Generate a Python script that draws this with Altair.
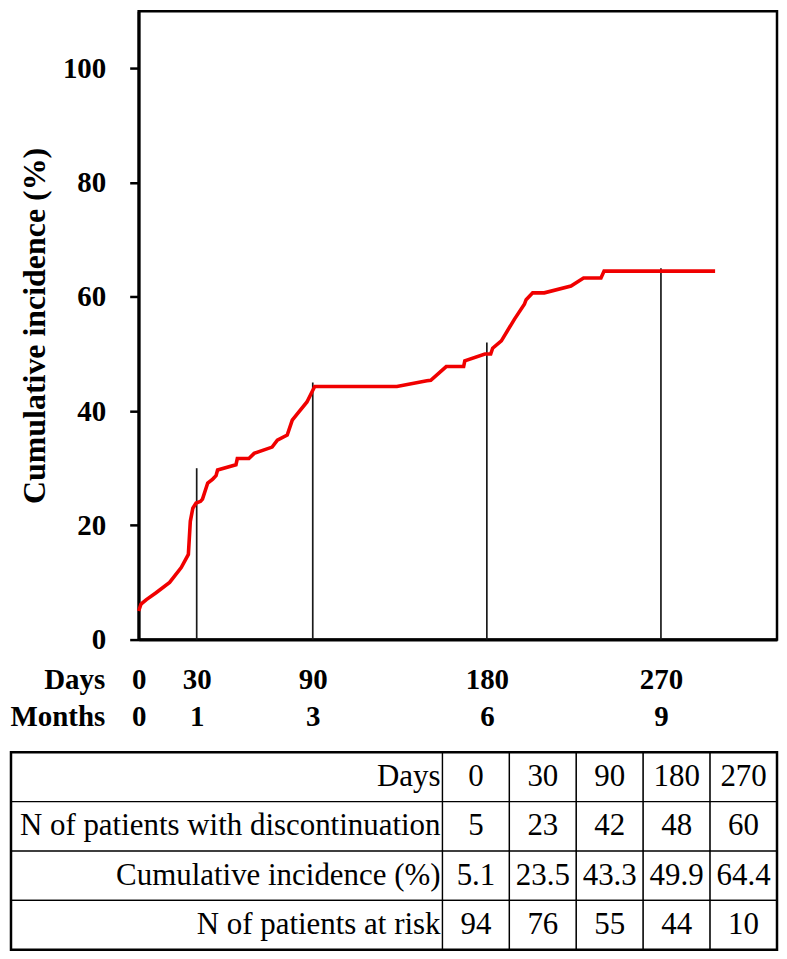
import altair as alt
import pandas as pd

# ---------------- data ----------------
curve_days = [0, 1.2, 4, 9, 16, 22, 25.7, 26.7, 28, 29.7, 32, 33, 35.7, 38.3, 40, 40.8,
              50.3, 51, 57, 59.7, 69, 71.7, 76.8, 79.4, 82, 87, 91, 133.5, 149, 151,
              159, 168, 168.6, 179, 182, 183, 187.5, 194.3, 199.4, 200.3, 203.7, 209.7,
              223.5, 230, 239, 240.6, 298]
curve_inc = [5.0, 6.2, 7.0, 8.2, 10.0, 12.6, 14.9, 20.7, 23.0, 23.9, 24.2, 24.6, 27.4, 28.1, 28.7, 29.7,
             30.6, 31.7, 31.7, 32.6, 33.7, 34.9, 35.8, 38.4, 39.5, 41.6, 44.3, 44.3, 45.3, 45.4,
             47.8, 47.8, 48.8, 50.0, 50.0, 51.0, 52.3, 56.1, 58.7, 59.5, 60.7, 60.7,
             61.9, 63.3, 63.3, 64.5, 64.5]

rule_days = [30, 90, 180, 270]
rule_tops = [30, 45, 52, 65]

tick_days = [0, 30, 90, 180, 270]
tick_months = [0, 1, 3, 6, 9]
y_ticks = [0, 20, 40, 60, 80, 100]

row_labels = ["Days", "N of patients with discontinuation",
              "Cumulative incidence (%)", "N of patients at risk"]
tbl_days = ["0", "30", "90", "180", "270"]
tbl_n_disc = ["5", "23", "42", "48", "60"]
tbl_cum_inc = ["5.1", "23.5", "43.3", "49.9", "64.4"]
tbl_at_risk = ["94", "76", "55", "44", "10"]

# ---------------- layout / style ----------------
FONT = "'Liberation Serif', 'Times New Roman', Tinos, 'Nimbus Roman', serif"
PLOT_W = 640
PLOT_H = 630
TABLE_LEFT_PX = 128      # how far the table reaches left of the plot's left edge
TABLE_H = 198
LABEL_UNITS = 6.45
VALUE_UNITS = 1.0

curve_df = pd.DataFrame({"day": curve_days, "value": curve_inc})
rule_df = pd.DataFrame({"day": rule_days, "value": rule_tops, "base": [0] * len(rule_days)})

label_expr = " : ".join(
    f"datum.value == {d} ? ['{d}', '{m}']" for d, m in zip(tick_days, tick_months)
) + " : datum.label"

x_enc = alt.X(
    "day:Q",
    scale=alt.Scale(domain=[0, 330], nice=False, zero=False),
    axis=alt.Axis(
        values=tick_days, ticks=False, tickSize=0, grid=False,
        domainColor="black", domainWidth=3,
        labelExpr=label_expr, labelFont=FONT, labelFontSize=29, labelFontWeight="bold",
        labelColor="black", labelPadding=49, labelBaseline="alphabetic",
        labelLineHeight=37, labelFlush=False, labelOverlap=False,
        title=["Days", "Months"], titleFont=FONT, titleFontSize=29, titleFontWeight="bold",
        titleColor="black", titleAlign="right", titleAngle=0, titleBaseline="alphabetic",
        titleLineHeight=37, titleX=-34, titleY=49,
    ),
)
y_axis = alt.Axis(
    values=y_ticks, grid=False, tickSize=9, tickWidth=2.5, tickColor="black",
    domainColor="black", domainWidth=3,
    labelFont=FONT, labelFontSize=29, labelFontWeight="bold", labelColor="black",
    labelPadding=24,
    title="Cumulative incidence (%)", titleFont=FONT, titleFontSize=32,
    titleFontWeight="bold", titleColor="black", titlePadding=11,
)
y_scale = alt.Scale(domain=[0, 110], nice=False)

line = alt.Chart(curve_df).mark_line(color="#f00000", strokeWidth=3.6).encode(
    x=x_enc,
    y=alt.Y("value:Q", scale=y_scale, axis=y_axis),
)
rules = alt.Chart(rule_df).mark_rule(color="#1a1a1a", strokeWidth=1.7).encode(
    x=x_enc,
    y=alt.Y("value:Q", scale=y_scale, axis=y_axis),
    y2="base:Q",
)
top = alt.layer(rules, line).properties(
    width=PLOT_W, height=PLOT_H,
    view=alt.ViewBackground(stroke="black", strokeWidth=2.5),
)

# ---------------- table ----------------
cells = []
for r, (lab, vals) in enumerate(zip(row_labels, [tbl_days, tbl_n_disc, tbl_cum_inc, tbl_at_risk])):
    cells.append(dict(row=r, x0=0.0, x1=LABEL_UNITS, text=lab, kind="label"))
    for c, v in enumerate(vals):
        x0 = LABEL_UNITS + c * VALUE_UNITS
        cells.append(dict(row=r, x0=x0, x1=x0 + VALUE_UNITS, text=v, kind="value"))
cells_df = pd.DataFrame(cells)
cells_df["y0"] = cells_df["row"]
cells_df["y1"] = cells_df["row"] + 1
cells_df["ym"] = cells_df["row"] + 0.5
cells_df["xm"] = (cells_df["x0"] + cells_df["x1"]) / 2
total_units = LABEL_UNITS + VALUE_UNITS * len(tbl_days)
n_rows = len(row_labels)
border_df = pd.DataFrame({"x0": [0.0], "x1": [total_units], "y0": [0], "y1": [n_rows]})

px_per_unit = (TABLE_LEFT_PX + PLOT_W) / total_units
tx = alt.Scale(domain=[TABLE_LEFT_PX / px_per_unit, total_units], nice=False, zero=False)
ty = alt.Scale(domain=[0, n_rows], nice=False, reverse=True)

tbase = alt.Chart(cells_df)
grid = tbase.mark_rect(fill="white", stroke="black", strokeWidth=1.3).encode(
    x=alt.X("x0:Q", scale=tx, axis=None),
    x2="x1:Q",
    y=alt.Y("y0:Q", scale=ty, axis=None),
    y2="y1:Q",
)
border = alt.Chart(border_df).mark_rect(fillOpacity=0, stroke="black", strokeWidth=2.5).encode(
    x=alt.X("x0:Q", scale=tx, axis=None),
    x2="x1:Q",
    y=alt.Y("y0:Q", scale=ty, axis=None),
    y2="y1:Q",
)
label_txt = tbase.transform_filter("datum.kind == 'label'").mark_text(
    align="right", baseline="middle", dx=-2, font=FONT, fontSize=31, color="black"
).encode(
    x=alt.X("x1:Q", scale=tx, axis=None),
    y=alt.Y("ym:Q", scale=ty, axis=None),
    text="text:N",
)
value_txt = tbase.transform_filter("datum.kind == 'value'").mark_text(
    align="center", baseline="middle", font=FONT, fontSize=31, color="black"
).encode(
    x=alt.X("xm:Q", scale=tx, axis=None),
    y=alt.Y("ym:Q", scale=ty, axis=None),
    text="text:N",
)
table = alt.layer(grid, border, label_txt, value_txt).properties(
    width=PLOT_W, height=TABLE_H,
    view=alt.ViewBackground(stroke="transparent"),
)

chart = alt.vconcat(top, table, spacing=17).properties(
    padding=0, background="white"
).configure(font=FONT, view=alt.ViewConfig(stroke="transparent"))

chart.save("out.html", embed_options={"renderer": "svg", "actions": False})
